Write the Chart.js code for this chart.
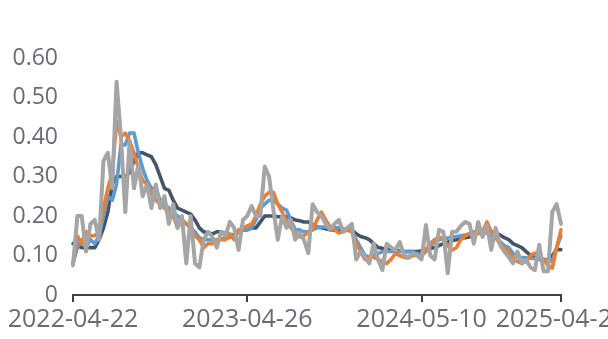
<!DOCTYPE html>
<html>
<head>
<meta charset="utf-8">
<script src="https://cdn.jsdelivr.net/npm/chart.js@4/dist/chart.umd.min.js"></script>
<style>
  html, body { margin: 0; padding: 0; background: #fff; overflow: hidden; }
</style>
</head>
<body>
<canvas id="grafico" width="608" height="339"></canvas>
<script>
// tick labels on the x axis and the category index where each one sits
const tickLabels = ['2022-04-22', '2023-04-26', '2024-05-10', '2025-04-25']
const tickIndex = [0, 40, 80, 112]

const serieEscura = [
  0.13, 0.125, 0.12, 0.12, 0.12, 0.12, 0.14, 0.17, 0.21, 0.28,
  0.30, 0.30, 0.30, 0.31, 0.34, 0.36, 0.36, 0.355, 0.35, 0.33,
  0.30, 0.27, 0.265, 0.24, 0.22, 0.215, 0.21, 0.205, 0.19, 0.17,
  0.16, 0.157, 0.155, 0.16, 0.16, 0.155, 0.152, 0.152, 0.16, 0.165,
  0.165, 0.17, 0.17, 0.185, 0.20, 0.20, 0.20, 0.198, 0.198, 0.198,
  0.195, 0.19, 0.188, 0.185, 0.185, 0.178, 0.172, 0.17, 0.168, 0.165,
  0.165, 0.165, 0.165, 0.165, 0.165, 0.155, 0.148, 0.145, 0.14, 0.13,
  0.12, 0.118, 0.115, 0.114, 0.113, 0.112, 0.11, 0.11, 0.11, 0.11,
  0.112, 0.115, 0.118, 0.12, 0.125, 0.13, 0.134, 0.138, 0.14, 0.144,
  0.145, 0.147, 0.152, 0.158, 0.162, 0.165, 0.16, 0.157, 0.152, 0.145,
  0.14, 0.13, 0.125, 0.12, 0.11, 0.10, 0.095, 0.09, 0.09, 0.09,
  0.10, 0.115, 0.115
]

const serieAzul = [
  0.08, 0.12, 0.14, 0.12, 0.14, 0.13, 0.15, 0.20, 0.25, 0.24,
  0.28, 0.38, 0.38, 0.41, 0.41, 0.36, 0.32, 0.29, 0.27, 0.27,
  0.24, 0.23, 0.22, 0.21, 0.20, 0.19, 0.18, 0.17, 0.16, 0.145,
  0.14, 0.14, 0.14, 0.14, 0.142, 0.144, 0.145, 0.15, 0.16, 0.165,
  0.165, 0.17, 0.19, 0.22, 0.23, 0.24, 0.24, 0.23, 0.22, 0.215,
  0.19, 0.165, 0.165, 0.16, 0.16, 0.165, 0.17, 0.172, 0.172, 0.172,
  0.17, 0.17, 0.168, 0.165, 0.16, 0.14, 0.12, 0.10, 0.096, 0.10,
  0.105, 0.11, 0.11, 0.11, 0.11, 0.11, 0.11, 0.11, 0.11, 0.105,
  0.10, 0.11, 0.125, 0.134, 0.14, 0.144, 0.144, 0.147, 0.148, 0.15,
  0.152, 0.155, 0.16, 0.16, 0.158, 0.157, 0.15, 0.144, 0.135, 0.125,
  0.12, 0.105, 0.096, 0.095, 0.094, 0.093, 0.092, 0.09, 0.09, 0.088,
  0.085, 0.12, 0.15
]

const serieLaranja = [
  0.08, 0.15, 0.13, 0.16, 0.15, 0.15, 0.16, 0.22, 0.27, 0.31,
  0.44, 0.40, 0.41, 0.39, 0.36, 0.32, 0.29, 0.28, 0.26, 0.24,
  0.23, 0.22, 0.21, 0.20, 0.17, 0.19, 0.18, 0.17, 0.15, 0.14,
  0.12, 0.13, 0.13, 0.14, 0.14, 0.14, 0.155, 0.14, 0.165, 0.17,
  0.175, 0.18, 0.20, 0.23, 0.25, 0.26, 0.26, 0.23, 0.21, 0.19,
  0.17, 0.157, 0.147, 0.15, 0.16, 0.165, 0.19, 0.21, 0.19, 0.172,
  0.165, 0.157, 0.16, 0.165, 0.16, 0.13, 0.11, 0.09, 0.096, 0.096,
  0.09, 0.085, 0.08, 0.09, 0.105, 0.10, 0.095, 0.094, 0.10, 0.10,
  0.10, 0.115, 0.13, 0.14, 0.147, 0.14, 0.125, 0.114, 0.12, 0.14,
  0.15, 0.155, 0.16, 0.155, 0.16, 0.185, 0.16, 0.145, 0.13, 0.12,
  0.11, 0.09, 0.085, 0.08, 0.085, 0.10, 0.106, 0.095, 0.09, 0.075,
  0.068, 0.12, 0.165
]

const serieCinza = [
  0.075, 0.20, 0.20, 0.11, 0.18, 0.19, 0.14, 0.34, 0.36, 0.27,
  0.54, 0.40, 0.21, 0.39, 0.27, 0.33, 0.25, 0.28, 0.22, 0.28,
  0.22, 0.25, 0.18, 0.23, 0.17, 0.20, 0.08, 0.20, 0.08, 0.07,
  0.14, 0.16, 0.147, 0.12, 0.16, 0.15, 0.185, 0.17, 0.114, 0.19,
  0.20, 0.225, 0.20, 0.20, 0.325, 0.30, 0.215, 0.14, 0.20, 0.17,
  0.19, 0.14, 0.157, 0.14, 0.106, 0.23, 0.21, 0.20, 0.18, 0.165,
  0.18, 0.19, 0.16, 0.17, 0.18, 0.09, 0.11, 0.096, 0.08, 0.13,
  0.09, 0.063, 0.13, 0.12, 0.114, 0.134, 0.10, 0.096, 0.106, 0.10,
  0.09, 0.177, 0.10, 0.09, 0.165, 0.16, 0.055, 0.16, 0.16, 0.175,
  0.185, 0.18, 0.13, 0.185, 0.147, 0.177, 0.114, 0.17, 0.127, 0.11,
  0.096, 0.08, 0.11, 0.08, 0.09, 0.07, 0.063, 0.127, 0.06, 0.06,
  0.21, 0.23, 0.18
]

// one category per point, only the tick positions carry a date
let labels = serieEscura.map(() => '')
tickIndex.forEach((idx, k) => { labels[idx] = tickLabels[k] })

const corTexto = '#6a6a78'
const corEixo = '#404040'

function linha(label, cor, dados, ordem, largura) {
  return {
    label: label,
    data: dados,
    borderColor: cor,
    backgroundColor: cor,
    borderWidth: largura,
    pointRadius: 0,
    tension: 0,
    borderJoinStyle: 'round',
    borderCapStyle: 'round',
    order: ordem
  }
}

var ctx = document.getElementById('grafico').getContext('2d')
var grafico = new Chart(ctx, {
  type: 'line',
  data: {
    labels: labels,
    datasets: [
      linha('Série 1', '#44546A', serieEscura, 3, 3.6),
      linha('Série 2', '#5B9BD5', serieAzul, 2, 3.6),
      linha('Série 3', '#ED7D31', serieLaranja, 1, 3.6),
      linha('Série 4', '#A5A5A5', serieCinza, 0, 4)
    ]
  },
  options: {
    responsive: false,
    devicePixelRatio: 1,
    animation: false,
    layout: { padding: { top: 58, right: 47, bottom: 0, left: 0 } },
    plugins: {
      legend: { display: false },
      tooltip: { enabled: false }
    },
    scales: {
      x: {
        type: 'category',
        offset: false,
        border: { display: true, color: corEixo, width: 2 },
        grid: {
          display: true,
          drawOnChartArea: false,
          drawTicks: true,
          tickLength: 7,
          color: corEixo,
          lineWidth: 2
        },
        ticks: {
          autoSkip: false,
          maxRotation: 0,
          minRotation: 0,
          padding: 3,
          color: corTexto,
          font: { family: 'Open Sans', size: 25 }
        },
        afterBuildTicks: (scale) => {
          scale.ticks = tickIndex.map(v => ({ value: v }))
        },
        afterFit: (scale) => {
          scale.height = 44
          scale.paddingLeft = 0
          scale.paddingRight = 0
        }
      },
      y: {
        min: 0,
        max: 0.6,
        border: { display: false },
        grid: { display: false, drawTicks: false },
        ticks: {
          stepSize: 0.1,
          padding: 15,
          color: corTexto,
          font: { family: 'Open Sans', size: 23 },
          callback: (v) => v === 0 ? '0' : v.toFixed(2)
        },
        afterFit: (scale) => {
          scale.width = 73
        }
      }
    }
  }
})
</script>
</body>
</html>
